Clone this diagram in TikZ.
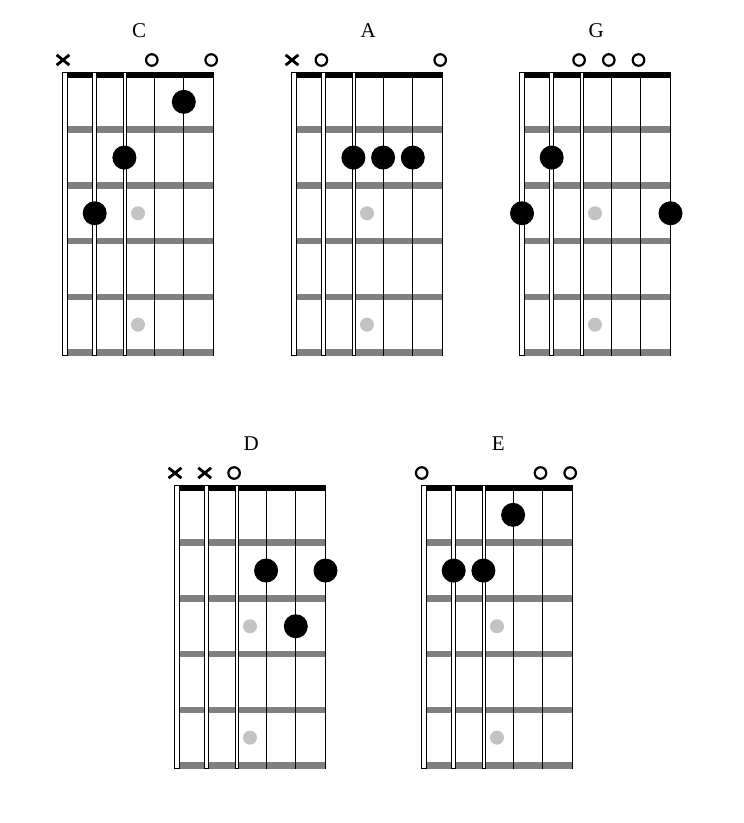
\documentclass[tikz,border=0pt]{standalone}
\usepackage{fontspec}
\setmainfont{Liberation Serif}
\usetikzlibrary{shapes.misc}
\definecolor{fretgray}{HTML}{808080}
\definecolor{inlaygray}{HTML}{C3C3C3}
\tikzset{
  fretbar/.style={fill=fretgray},
  nutbar/.style={fill=black},
  wound/.style={fill=white, draw=black, line width=0.8pt},
  plainstring/.style={draw=black, line width=1.2pt},
  fingerdot/.style={circle, fill=black, inner sep=0pt, minimum size=24pt},
  inlay/.style={circle, fill=inlaygray, inner sep=0pt, minimum size=14pt},
  openmark/.style={circle, draw=black, line width=2.2pt, inner sep=0pt, minimum size=11.5pt},
  mutemark/.style={cross out, draw=black, line width=2.8pt, inner sep=0pt, minimum width=10pt, minimum height=7.5pt},
  chordtitle/.style={font=\fontsize{21}{21}\selectfont, anchor=base, inner sep=0pt}
}
% #1 x0, #2 nut top, #3 name
\newcommand\chordgrid[3]{%
  \foreach \i in {1,...,5} {\fill[fretbar] (#1, #2+2+55.7*\i-3.3) rectangle (#1+149, #2+2+55.7*\i+3.3);}
  \fill[nutbar] (#1,#2-0.3) rectangle (#1+149,#2+6.3);
  \node[inlay] (#3-i3) at (#1+73, #2+2+55.7*2.5) {};
  \node[inlay] (#3-i5) at (#1+73, #2+2+55.7*4.5) {};
  \draw[wound] (#1-2.5,#2) rectangle (#1+2.5,#2+283.8);
  \draw[wound] (#1+29.7-2,#2) rectangle (#1+29.7+2,#2+283.8);
  \draw[wound] (#1+59.4-1.5,#2) rectangle (#1+59.4+1.5,#2+283.8);
  \foreach \s in {3,4,5} {\draw[plainstring] (#1+29.7*\s,#2) -- (#1+29.7*\s,#2+283.8);}
  \node[chordtitle] (#3-t) at (#1+74.25,#2-35) {#3};
}
% #1 x0, #2 top, #3 string, #4 fret, #5 name
\newcommand\fdot[5]{\node[fingerdot] (#5) at (#1+29.7*#3-29.7, #2+2+55.7*#4-27.85) {};}
% #1 x0, #2 top, #3 string, #4 name
\newcommand\omark[4]{\node[openmark] (#4) at (#1+29.7*#3-29.7-2.3, #2-12) {};}
\newcommand\xmark[4]{\node[mutemark] (#4) at (#1+29.7*#3-29.7-2, #2-12) {};}
\begin{document}
\begin{tikzpicture}[x=1pt,y=-1pt]
\useasboundingbox (0,0) rectangle (744,823);
% C
\chordgrid{65}{72}{C}
\xmark{65}{72}{1}{C-x1}
\omark{65}{72}{4}{C-o4}
\omark{65}{72}{6}{C-o6}
\fdot{65}{72}{2}{3}{C-d2}
\fdot{65}{72}{3}{2}{C-d3}
\fdot{65}{72}{5}{1}{C-d5}
% A
\chordgrid{294}{72}{A}
\xmark{294}{72}{1}{A-x1}
\omark{294}{72}{2}{A-o2}
\omark{294}{72}{6}{A-o6}
\fdot{294}{72}{3}{2}{A-d3}
\fdot{294}{72}{4}{2}{A-d4}
\fdot{294}{72}{5}{2}{A-d5}
% G
\chordgrid{522}{72}{G}
\omark{522}{72}{3}{G-o3}
\omark{522}{72}{4}{G-o4}
\omark{522}{72}{5}{G-o5}
\fdot{522}{72}{1}{3}{G-d1}
\fdot{522}{72}{2}{2}{G-d2}
\fdot{522}{72}{6}{3}{G-d6}
% D
\chordgrid{177}{485}{D}
\xmark{177}{485}{1}{D-x1}
\xmark{177}{485}{2}{D-x2}
\omark{177}{485}{3}{D-o3}
\fdot{177}{485}{4}{2}{D-d4}
\fdot{177}{485}{5}{3}{D-d5}
\fdot{177}{485}{6}{2}{D-d6}
% E
\chordgrid{424}{485}{E}
\omark{424}{485}{1}{E-o1}
\omark{424}{485}{5}{E-o5}
\omark{424}{485}{6}{E-o6}
\fdot{424}{485}{2}{2}{E-d2}
\fdot{424}{485}{3}{2}{E-d3}
\fdot{424}{485}{4}{1}{E-d4}
\end{tikzpicture}
\end{document}
